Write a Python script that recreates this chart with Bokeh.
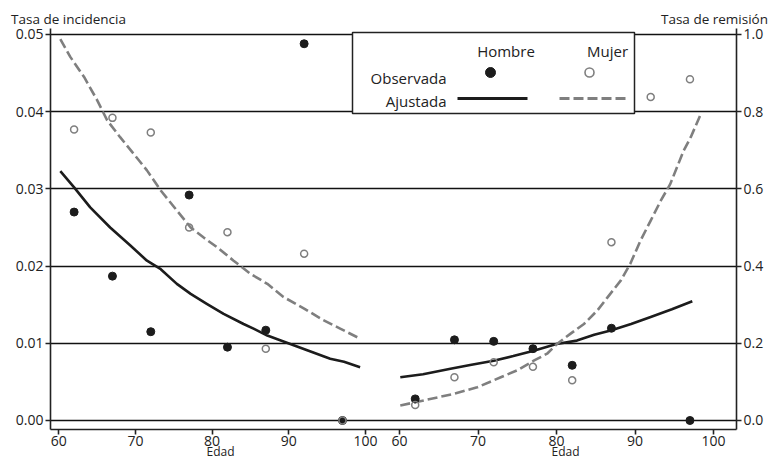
from bokeh.plotting import figure
from bokeh.models import Range1d, LinearAxis, FixedTicker, NumeralTickFormatter
from bokeh.core.properties import value
from bokeh.embed import file_html
from bokeh.resources import INLINE

# ---------------- data ----------------
obs_ages = [62, 67, 72, 77, 82, 87, 92, 97]
inc_hombre_obs = [0.0270, 0.0187, 0.0115, 0.0292, 0.0095, 0.0117, 0.0488, 0.0]
inc_mujer_obs = [0.0377, 0.0392, 0.0373, 0.0250, 0.0244, 0.0093, 0.0216, 0.0]

rem_hombre_ages = [62, 67, 72, 77, 82, 87, 97]
rem_hombre_obs = [0.056, 0.209, 0.205, 0.186, 0.143, 0.239, 0.0]
rem_mujer_ages = [62, 67, 72, 77, 82, 87, 92, 97]
rem_mujer_obs = [0.040, 0.112, 0.151, 0.139, 0.104, 0.462, 0.838, 0.884]

inc_fit_h_ages = [60.2, 62.0, 64.1, 66.7, 69.3, 71.5, 73.3, 75.4, 77.2, 79.3, 81.5,
                  84.1, 85.4, 87.2, 89.4, 92.4, 95.4, 97.2, 99.3]
inc_fit_h = [0.0323, 0.0302, 0.0276, 0.0250, 0.0227, 0.0207, 0.0196, 0.0177, 0.0164,
             0.0151, 0.0138, 0.0125, 0.0119, 0.0110, 0.0102, 0.0091, 0.0080, 0.0076, 0.0069]
inc_fit_m_ages = [60.2, 61.5, 63.3, 65.0, 66.3, 68.0, 69.8, 71.5, 73.3, 75.4, 77.2, 78.9,
                  80.7, 82.8, 85.0, 87.2, 89.3, 92.0, 94.5, 96.7, 99.3]
inc_fit_m = [0.0494, 0.0471, 0.0445, 0.0415, 0.0389, 0.0367, 0.0345, 0.0324, 0.0298,
             0.0272, 0.0250, 0.0237, 0.0224, 0.0207, 0.0190, 0.0177, 0.0160, 0.0145,
             0.0130, 0.0119, 0.0106]

rem_fit_h_ages = [60.1, 63.0, 66.5, 69.0, 72.0, 74.5, 77.1, 80.0, 82.6, 84.8, 86.9,
                  89.5, 92.0, 94.7, 97.3]
rem_fit_h = [0.112, 0.120, 0.134, 0.144, 0.155, 0.167, 0.181, 0.198, 0.207, 0.222, 0.233,
             0.250, 0.268, 0.288, 0.309]
rem_fit_m_ages = [60.1, 63.1, 66.9, 69.9, 72.9, 75.0, 77.1, 78.8, 80.1, 81.8, 83.5, 85.2,
                  86.5, 88.2, 89.4, 90.7, 92.0, 93.3, 94.5, 96.2, 97.1, 98.3]
rem_fit_m = [0.039, 0.052, 0.069, 0.086, 0.112, 0.130, 0.155, 0.173, 0.199, 0.225, 0.250,
             0.285, 0.319, 0.363, 0.406, 0.466, 0.518, 0.570, 0.613, 0.699, 0.734, 0.790]

age_ticks = [60, 70, 80, 90, 100]
inc_ticks = [0.0, 0.01, 0.02, 0.03, 0.04, 0.05]
rem_ticks = [0.0, 0.2, 0.4, 0.6, 0.8, 1.0]

title_left = "Tasa de incidencia"
title_right = "Tasa de remisión"
x_name = "Edad"

# ---------------- styling ----------------
FONT = "Open Sans"
BLACK = "#1c1c1c"
GREY = "#7f7f7f"
TXT = "#222222"

L0, L1 = 58.92, 148.39      # left panel ages (incidence)
R0, R1 = 15.54, 102.93      # right panel ages (remission)
Y0, Y1 = -0.001166, 0.050777
FW, FH = 686, 401

p = figure(width=771, height=464, output_backend="svg", toolbar_location=None,
           title=None, x_range=Range1d(L0, L1), y_range=Range1d(Y0, Y1),
           min_border_left=50, min_border_right=35, min_border_top=28,
           min_border_bottom=35)
p.extra_x_ranges = {"rem": Range1d(R0, R1), "px": Range1d(0, FW)}
p.extra_y_ranges = {"rem": Range1d(Y0 * 20, Y1 * 20), "px": Range1d(0, FH)}
p.outline_line_color = None
p.background_fill_color = "white"
p.border_fill_color = "white"

# grid
p.xgrid.grid_line_color = None
p.ygrid.ticker = FixedTicker(ticks=inc_ticks)
p.ygrid.grid_line_color = "#111111"
p.ygrid.grid_line_width = 1.3


def style_axis(ax, size="14px", standoff=2):
    ax.axis_line_color = TXT
    ax.axis_line_width = 1.6
    ax.major_tick_line_color = TXT
    ax.major_tick_line_width = 1.6
    ax.major_tick_out = 5
    ax.major_tick_in = 0
    ax.minor_tick_line_color = None
    ax.major_label_text_font = FONT
    ax.major_label_text_font_size = size
    ax.major_label_text_color = TXT
    ax.major_label_standoff = standoff


def text_axis(ax, size, standoff):
    style_axis(ax, size, standoff)
    ax.axis_line_color = None
    ax.major_tick_line_color = None
    ax.major_tick_out = 0


# left y axis
ly = p.yaxis[0]
ly.ticker = FixedTicker(ticks=inc_ticks)
ly.formatter = NumeralTickFormatter(format="0.00")
style_axis(ly)

# right y axis
ry = LinearAxis(y_range_name="rem", ticker=FixedTicker(ticks=rem_ticks),
                formatter=NumeralTickFormatter(format="0.0"))
style_axis(ry)
p.add_layout(ry, "right")

# bottom axis: both age segments on a single axis line
def right_to_left(a):
    return round(L0 + (a - R0) / (R1 - R0) * (L1 - L0), 5)

bx = p.xaxis[0]
right_pos = [right_to_left(a) for a in age_ticks]
bx.ticker = FixedTicker(ticks=[float(a) for a in age_ticks] + right_pos)
overrides = {float(a): str(a) for a in age_ticks}
for a, pos in zip(age_ticks, right_pos):
    overrides[pos] = str(a)
bx.major_label_overrides = overrides
style_axis(bx, standoff=1)

# "Edad" names under each segment (text-only axis stacked below)
ex = LinearAxis(x_range_name="px", ticker=FixedTicker(ticks=[170, 515]),
                major_label_overrides={170: x_name, 515: x_name})
text_axis(ex, "12px", -6)
p.add_layout(ex, "below")

# top titles (text-only axis above)
tx = LinearAxis(x_range_name="px", ticker=FixedTicker(ticks=[18, 664]),
                major_label_overrides={18: title_left, 664: title_right})
text_axis(tx, "13.5px", 1)
p.add_layout(tx, "above")

# ---------------- data glyphs ----------------
# incidence (left)
p.line(inc_fit_h_ages, inc_fit_h, line_color=BLACK, line_width=2.6, line_join="round")
p.line(inc_fit_m_ages, inc_fit_m, line_color=GREY, line_width=2.6, line_dash="10 4")
p.scatter(obs_ages, inc_hombre_obs, size=8, fill_color=BLACK, line_color=BLACK)
p.scatter(obs_ages, inc_mujer_obs, size=7, fill_alpha=0, line_color=GREY, line_width=1.5)

# remission (right)
p.line(rem_fit_h_ages, rem_fit_h, line_color=BLACK, line_width=2.6, line_join="round",
       x_range_name="rem", y_range_name="rem")
p.line(rem_fit_m_ages, rem_fit_m, line_color=GREY, line_width=2.6, line_dash="10 4",
       x_range_name="rem", y_range_name="rem")
p.scatter(rem_hombre_ages, rem_hombre_obs, size=8, fill_color=BLACK, line_color=BLACK,
          x_range_name="rem", y_range_name="rem")
p.scatter(rem_mujer_ages, rem_mujer_obs, size=7, fill_alpha=0, line_color=GREY,
          line_width=1.5, x_range_name="rem", y_range_name="rem")

# ---------------- legend (frame pixel coordinates) ----------------
px = dict(x_range_name="px", y_range_name="px")
p.quad(left=[302], right=[584], bottom=[316], top=[397], fill_color="white",
       line_color=TXT, line_width=1.5, **px)
p.text(x=[455.5, 557], y=[379, 379], text=["Hombre", "Mujer"], text_align="center",
       text_baseline="middle", text_font=value(FONT), text_font_size="15px",
       text_color=TXT, **px)
p.text(x=[396, 396], y=[352, 329], text=["Observada", "Ajustada"], text_align="right",
       text_baseline="middle", text_font=value(FONT), text_font_size="15px",
       text_color=TXT, **px)
p.scatter([440], [357], size=10, fill_color=BLACK, line_color=BLACK, **px)
p.scatter([539], [357], size=9, fill_alpha=0, line_color=GREY, line_width=1.6, **px)
p.line([407, 477], [331, 331], line_color=BLACK, line_width=3, **px)
p.line([509, 577], [331, 331], line_color=GREY, line_width=3, line_dash="10 4", **px)

open("out.html", "w").write(file_html(p, INLINE))
